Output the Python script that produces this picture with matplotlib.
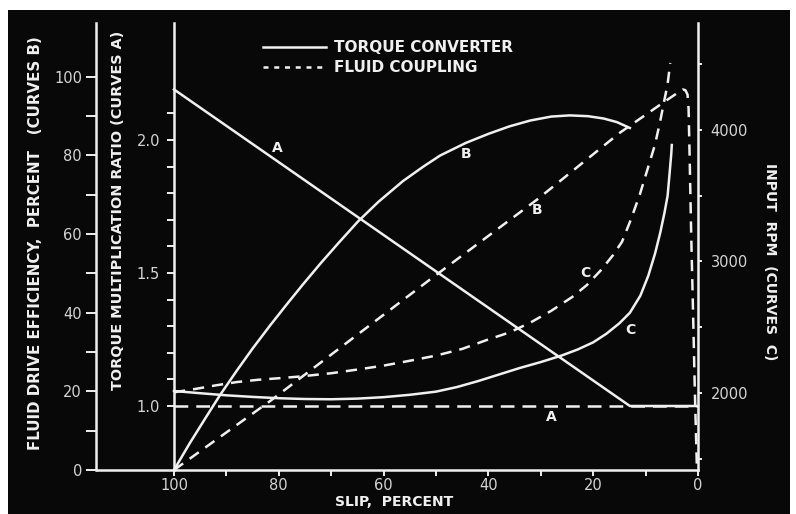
import matplotlib
matplotlib.use("Agg")
import matplotlib.pyplot as plt
from matplotlib.patches import Rectangle
from matplotlib.lines import Line2D
from matplotlib.ticker import FixedLocator

# curves A: torque multiplication ratio vs slip
slip_a_tc = [100, 13, 0]
ratio_a_tc = [2.19, 1.0, 1.0]
slip_a_fc = [100, 0]
ratio_a_fc = [1.0, 1.0]

# curves B: fluid drive efficiency (percent)
slip_b_tc = [100, 97, 94, 91.2, 88, 85, 81.7, 78.5, 75.4, 72, 68.5, 64.9, 61, 56.3,
             52.5, 49.2, 44.3, 40, 36, 32, 28, 24.5, 21, 18, 15.5, 13]
eff_b_tc = [0, 6.8, 13.2, 19.1, 25.3, 30.9, 36.7, 42.1, 47.2, 52.6, 57.9, 63.2, 68.2, 73.5,
            77.1, 80.0, 83.2, 85.5, 87.4, 88.9, 89.9, 90.2, 90.0, 89.4, 88.5, 87.0]
slip_b_fc = [100, 81.7, 51.1, 30.7, 14.9, 6.7, 3.5, 2.9, 2.4, 2.0, 1.8, 1.6, 1.3, 1.0, 0.6, 0.2]
eff_b_fc = [0, 17.5, 48.5, 68.8, 85.8, 93.4, 96.3, 96.8, 96.6, 95.5, 92.0, 80.0, 60.0, 43.3, 20.0, 0]

# curves C: input rpm
slip_c_tc = [100, 95, 90, 85, 80, 75, 70, 65, 60, 55, 50, 46, 42, 38, 34, 30, 26, 23,
             20, 17.5, 15, 13, 11, 9.5, 8.2, 7.2, 6.4, 5.8, 5.4, 5.1, 5.0]
rpm_c_tc = [2015, 1998, 1982, 1970, 1960, 1954, 1952, 1957, 1968, 1986, 2010, 2045, 2090,
            2140, 2190, 2235, 2285, 2330, 2385, 2450, 2530, 2610, 2740, 2890, 3060, 3220,
            3370, 3500, 3680, 3820, 3886]
slip_c_fc = [100, 96, 92, 88, 84, 80, 76, 70, 65, 60, 55, 50, 45, 40.3, 36, 32, 28, 24,
             21.2, 18.5, 16.2, 14.5, 12.8, 11.1, 9.5, 8.2, 7.2, 6.4, 5.8, 5.3]
rpm_c_fc = [2005, 2030, 2058, 2083, 2100, 2112, 2125, 2150, 2178, 2208, 2245, 2284, 2335,
            2403, 2460, 2535, 2625, 2730, 2821, 2935, 3049, 3150, 3320, 3510, 3719, 3890,
            4070, 4230, 4350, 4510]

x_major = [0, 20, 40, 60, 80, 100]
x_minor = [10, 30, 50, 70, 90]
ratio_major = [1.0, 1.5, 2.0]
ratio_minor = [1.1, 1.2, 1.3, 1.4, 1.6, 1.7, 1.8, 1.9, 2.1]
eff_major = [0, 20, 40, 60, 80, 100]
eff_minor = [10, 30, 50, 70, 90]
rpm_major = [2000, 3000, 4000]
rpm_minor = [1500, 2500, 3500, 4500]

FG = '#f0f0f0'
TICK_FG = '#d4d4d4'
BG = '#080808'
LW = 1.8
W, H = 796, 514

fig = plt.figure(figsize=(W / 100, H / 100), dpi=100, facecolor='white')
fig.add_artist(Rectangle((8 / W, 0), (790 - 8) / W, (514 - 10) / H,
                         transform=fig.transFigure, facecolor=BG, edgecolor='none', zorder=-5))

ax = fig.add_axes([174 / W, 1 - 470 / H, 524 / W, 447 / H])
ax.set_facecolor('none')
ax.set_xlim(100, 0)
ax.set_ylim(0.7594, 2.4398)

ax_eff = ax.twinx()
ax_eff.set_ylim(0, 113.7)
ax_rpm = ax.twinx()
ax_rpm.set_ylim(1414, 4814)

for a in (ax, ax_eff, ax_rpm):
    for s in a.spines.values():
        s.set_visible(False)
        s.set_color(FG)
        s.set_linewidth(LW)
ax.spines['left'].set_visible(True)
ax.spines['bottom'].set_visible(True)
ax_eff.spines['left'].set_visible(True)
ax_eff.spines['left'].set_position(('axes', -78 / 524))
ax_eff.yaxis.set_ticks_position('left')
ax_rpm.spines['right'].set_visible(True)

# bottom line continues under the outer efficiency scale
ax_eff.add_line(Line2D([-78 / 524, 0], [0, 0], transform=ax_eff.transAxes,
                       color=FG, lw=LW, clip_on=False, solid_capstyle='butt'))

tick_font = dict(labelsize=10.5, labelcolor=TICK_FG, color=FG, width=1.4)
ax.xaxis.set_major_locator(FixedLocator(x_major))
ax.xaxis.set_minor_locator(FixedLocator(x_minor))
ax.tick_params(axis='x', which='both', direction='out', length=4, pad=2, **tick_font)
ax.xaxis.set_major_formatter(plt.FuncFormatter(lambda v, p: f'{v:.0f}'))

ax.yaxis.set_major_locator(FixedLocator(ratio_major))
ax.yaxis.set_minor_locator(FixedLocator(ratio_minor))
ax.yaxis.set_major_formatter(plt.FuncFormatter(lambda v, p: f'{v:.1f}'))
ax.tick_params(axis='y', which='both', direction='out', length=5, pad=5, **tick_font)

ax_eff.yaxis.set_major_locator(FixedLocator(eff_major))
ax_eff.yaxis.set_minor_locator(FixedLocator(eff_minor))
ax_eff.yaxis.set_major_formatter(plt.FuncFormatter(lambda v, p: f'{v:.0f}'))
ax_eff.tick_params(axis='y', which='both', direction='out', length=7, pad=3,
                   left=True, right=False, labelleft=True, labelright=False, **tick_font)

ax_rpm.yaxis.set_major_locator(FixedLocator(rpm_major))
ax_rpm.yaxis.set_minor_locator(FixedLocator(rpm_minor))
ax_rpm.yaxis.set_major_formatter(plt.FuncFormatter(lambda v, p: f'{v:.0f}'))
ax_rpm.tick_params(axis='y', which='both', direction='out', length=3, pad=6, **tick_font)

dash_ab = (5.5, 3.2)
dash_bc = (4.5, 3.2)

ax.plot(slip_a_tc, ratio_a_tc, color=FG, lw=LW, clip_on=False)
ax.plot(slip_a_fc, ratio_a_fc, color=FG, lw=LW, dashes=dash_ab, clip_on=False)
ax_eff.plot(slip_b_tc, eff_b_tc, color=FG, lw=LW, clip_on=False)
ax_eff.plot(slip_b_fc, eff_b_fc, color=FG, lw=LW, dashes=dash_bc, clip_on=False)
ax_rpm.plot(slip_c_tc, rpm_c_tc, color=FG, lw=LW, clip_on=False)
ax_rpm.plot(slip_c_fc, rpm_c_fc, color=FG, lw=LW, dashes=dash_bc, clip_on=False)

# curve letters
lab = dict(color=FG, fontsize=10, fontweight='bold', ha='center', va='center')
ax.text(80.2, 1.97, 'A', **lab)
ax.text(27.9, 0.96, 'A', **lab)
ax_eff.text(44.3, 80.5, 'B', **lab)
ax_eff.text(30.7, 66.2, 'B', **lab)
ax_rpm.text(21.5, 2915, 'C', **lab)
ax_rpm.text(13, 2480, 'C', **lab)

handles = [Line2D([], [], color=FG, lw=LW),
           Line2D([], [], color=FG, lw=LW, dashes=(2, 2.3))]
leg = ax.legend(handles, ['TORQUE CONVERTER', 'FLUID COUPLING'], loc='upper left',
                bbox_to_anchor=(0.17, 0.962), frameon=False, handlelength=4.1,
                handletextpad=0.55, labelspacing=0.35, borderpad=0, borderaxespad=0,
                prop=dict(size=11, weight='bold'))
for t in leg.get_texts():
    t.set_color(FG)

lbl = dict(color=FG, fontsize=10, fontweight='bold', ha='center', va='center')
fig.text(36 / W, 1 - 243 / H, 'FLUID DRIVE EFFICIENCY,  PERCENT   (CURVES B)', rotation=90,
         **{**lbl, 'fontsize': 10.8})
fig.text(118 / W, 1 - 210 / H, 'TORQUE MULTIPLICATION RATIO (CURVES A)', rotation=90,
         **{**lbl, 'fontsize': 10.4})
fig.text(770 / W, 1 - 262 / H, 'INPUT  RPM  (CURVES  C)', rotation=-90, **lbl)
fig.text(394 / W, 1 - 502 / H, 'SLIP,  PERCENT', **lbl)

fig.savefig('out.png', dpi=100, facecolor='white')
